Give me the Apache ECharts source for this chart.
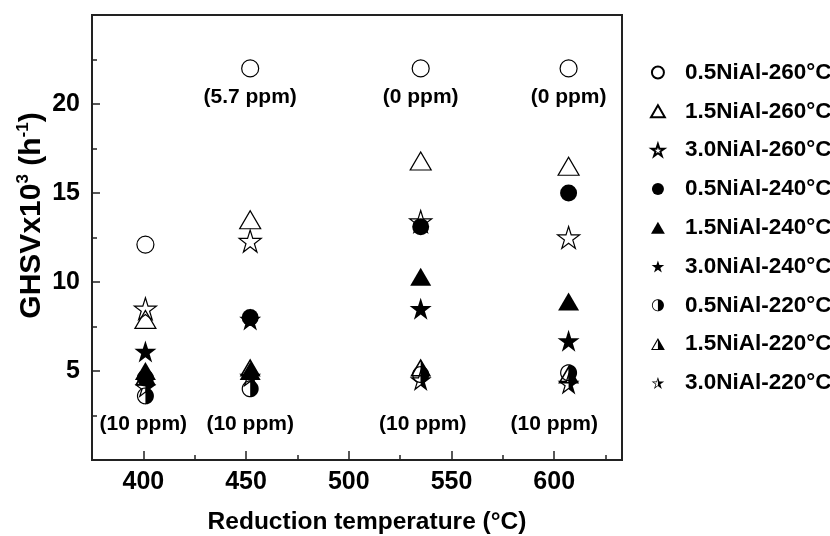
<!DOCTYPE html>
<html>
<head>
    <meta charset="UTF-8">
    <title>GHSV vs reduction temperature</title>
    <style>
        body { margin: 0; background: #fff; }
        #chart { width: 830px; height: 536px; }
    </style>
</head>
<body>
    <div id="chart"></div>
    <script src="https://cdn.jsdelivr.net/npm/echarts@6/dist/echarts.min.js"></script>
    <script>
        // reduction temperature of each column of points
        const colX = [401, 452, 535, 607];

        // GHSV x10^3 (h-1)
        const ni05_260 = [12.1, 22.0, 22.0, 22.0];
        const ni15_260 = [7.9, 13.5, 16.8, 16.5];
        const ni30_260 = [8.5, 12.3, 13.4, 12.5];
        const ni05_240 = [4.6, 8.0, 13.1, 15.0];
        const ni15_240 = [5.0, 5.0, 10.3, 8.9];
        const ni30_240 = [6.1, 7.9, 8.5, 6.7];
        const ni05_220 = [3.6, 4.0, 4.8, 4.9];
        const ni15_220 = [4.7, 5.2, 5.2, 4.8];
        const ni30_220 = [4.1, 4.7, 4.5, 4.3];

        // ppm notes
        const noteHighX = [452, 535, 607];
        const noteHighY = [20.4, 20.4, 20.4];
        const noteHighText = ['(5.7 ppm)', '(0 ppm)', '(0 ppm)'];
        const noteLowX = [400, 452, 536, 600];
        const noteLowY = [2.0, 2.0, 2.0, 2.0];
        const noteLowText = ['(10 ppm)', '(10 ppm)', '(10 ppm)', '(10 ppm)'];

        const xTicks = [400, 450, 500, 550, 600];

        const SANS = "'Liberation Sans', Arial, sans-serif";
        const INK = '#000';

        // marker shapes (0..100 box)
        function polyStr(pts) {
            return 'M' + pts.map(p => p[0].toFixed(2) + ' ' + p[1].toFixed(2)).join(' L') + ' Z ';
        }
        function clipRight(pts, cx) {
            const out = [];
            for (let i = 0; i < pts.length; i++) {
                const a = pts[i], b = pts[(i + 1) % pts.length];
                const ina = a[0] >= cx, inb = b[0] >= cx;
                if (ina) out.push(a);
                if (ina !== inb) {
                    const t = (cx - a[0]) / (b[0] - a[0]);
                    out.push([cx, a[1] + t * (b[1] - a[1])]);
                }
            }
            return out;
        }
        // outline ring + filled right half, as one filled path
        function halfPath(pts, c, k) {
            const inner = pts.map(p => [c[0] + (p[0] - c[0]) * k, c[1] + (p[1] - c[1]) * k]).reverse();
            return 'path://' + polyStr(pts) + polyStr(inner) + polyStr(clipRight(pts, 50));
        }
        const circlePts = [];
        for (let i = 0; i < 48; i++) {
            const a = i / 48 * Math.PI * 2;
            circlePts.push([50 + 50 * Math.cos(a), 50 + 50 * Math.sin(a)]);
        }
        const triPts = [[50, 0], [100, 86.6], [0, 86.6]];
        const starPts = [];
        for (let i = 0; i < 10; i++) {
            const r = i % 2 ? 19.1 : 50;
            const a = (-90 + i * 36) * Math.PI / 180;
            starPts.push([50 + r * Math.cos(a), 50 + r * Math.sin(a)]);
        }
        const triPath = 'path://' + polyStr(triPts);
        const starPath = 'path://' + polyStr(starPts);
        const halfCircle = halfPath(circlePts, [50, 50], 0.86);
        const halfTri = halfPath(triPts, [50, 57.7], 0.74);
        const halfStar = halfPath(starPts, [50, 50], 0.66);

        const openStyle = { color: 'rgba(255,255,255,0)', borderColor: INK, borderWidth: 1.2, opacity: 1 };
        const fillStyle = { color: INK, borderWidth: 0, opacity: 1 };

        function pts(ys) { return colX.map((x, i) => [x, ys[i]]); }
        function markSeries(name, ys, symbol, size, style) {
            return { name: name, type: 'scatter', data: pts(ys), symbol: symbol, symbolSize: size,
                     itemStyle: style, emphasis: { disabled: true } };
        }
        function noteSeries(xs, ys, texts) {
            return {
                type: 'scatter', silent: true, symbol: 'circle', symbolSize: 1,
                itemStyle: { color: 'rgba(0,0,0,0)', opacity: 1 },
                data: xs.map((x, i) => ({ value: [x, ys[i]], name: texts[i] })),
                label: { show: true, position: 'inside', formatter: p => p.name,
                         fontFamily: SANS, fontWeight: 'bold', fontSize: 21, color: INK }
            };
        }

        const series = [
            markSeries('0.5NiAl-260°C', ni05_260, 'circle', 17, openStyle),
            markSeries('1.5NiAl-260°C', ni15_260, triPath, [21, 18], openStyle),
            markSeries('3.0NiAl-260°C', ni30_260, starPath, 22, openStyle),
            markSeries('0.5NiAl-240°C', ni05_240, 'circle', 17, fillStyle),
            markSeries('1.5NiAl-240°C', ni15_240, triPath, [21, 18], fillStyle),
            markSeries('3.0NiAl-240°C', ni30_240, starPath, 22, fillStyle),
            markSeries('0.5NiAl-220°C', ni05_220, halfCircle, 17, fillStyle),
            markSeries('1.5NiAl-220°C', ni15_220, halfTri, [21, 18], fillStyle),
            markSeries('3.0NiAl-220°C', ni30_220, halfStar, 22, fillStyle),
            noteSeries(noteHighX, noteHighY, noteHighText),
            noteSeries(noteLowX, noteLowY, noteLowText)
        ];

        const chart = echarts.init(document.getElementById('chart'));
        chart.setOption({
            animation: false,
            backgroundColor: '#fff',
            grid: { left: 92, right: 208, top: 15, bottom: 76, show: true,
                    outerBoundsMode: 'none', containLabel: false,
                    borderColor: '#222', borderWidth: 2 },
            legend: {
                orient: 'vertical', left: 645, top: 56,
                itemWidth: 44, itemHeight: 12, itemGap: 15.8,
                data: series.slice(0, 9).map(s => s.name),
                textStyle: { fontFamily: SANS, fontWeight: 'bold', fontSize: 22.5, color: INK },
                selectedMode: false
            },
            xAxis: [{
                type: 'value', min: 375, max: 633, interval: 25,
                axisLine: { show: true, lineStyle: { color: '#222', width: 2 } },
                axisTick: { show: true, inside: true, length: 5, lineStyle: { color: '#222', width: 1.5 } },
                axisLabel: { show: false },
                splitLine: { show: false }
            }, {
                type: 'value', min: 375, max: 633, position: 'bottom',
                axisLine: { show: false },
                axisTick: { show: true, inside: true, length: 9, customValues: xTicks,
                            lineStyle: { color: '#222', width: 1.5 } },
                axisLabel: { customValues: xTicks, margin: 10, fontFamily: SANS, fontWeight: 'bold',
                             fontSize: 25, color: INK },
                splitLine: { show: false },
                name: 'Reduction temperature (°C)', nameLocation: 'middle', nameGap: 50,
                nameMoveOverlap: false,
                nameTextStyle: { fontFamily: SANS, fontWeight: 'bold', fontSize: 24.5, color: INK,
                                 padding: [0, 0, 0, 20] }
            }],
            yAxis: {
                type: 'value', min: 0, max: 25, interval: 5,
                axisLine: { show: true, lineStyle: { color: '#222', width: 2 } },
                axisTick: { show: true, inside: true, length: 8, lineStyle: { color: '#222', width: 1.5 } },
                minorTick: { show: true, splitNumber: 2, length: 5, lineStyle: { color: '#222', width: 1.5 } },
                axisLabel: { margin: 12, fontFamily: SANS, fontWeight: 'bold', fontSize: 25, color: INK,
                             formatter: v => (v === 0 || v === 25) ? '' : v },
                splitLine: { show: false },
                name: '{a|GHSVx10}{s|3}{a| (h}{s|-1}{a|)}',
                nameLocation: 'middle', nameGap: 43, nameMoveOverlap: false,
                nameTextStyle: {
                    padding: [0, 0, 0, 44],
                    rich: {
                        a: { fontFamily: SANS, fontWeight: 'bold', fontSize: 30, color: INK, lineHeight: 34 },
                        s: { fontFamily: SANS, fontWeight: 'bold', fontSize: 17, color: INK, verticalAlign: 'top' }
                    }
                }
            },
            series: series
        });
    </script>
</body>
</html>
